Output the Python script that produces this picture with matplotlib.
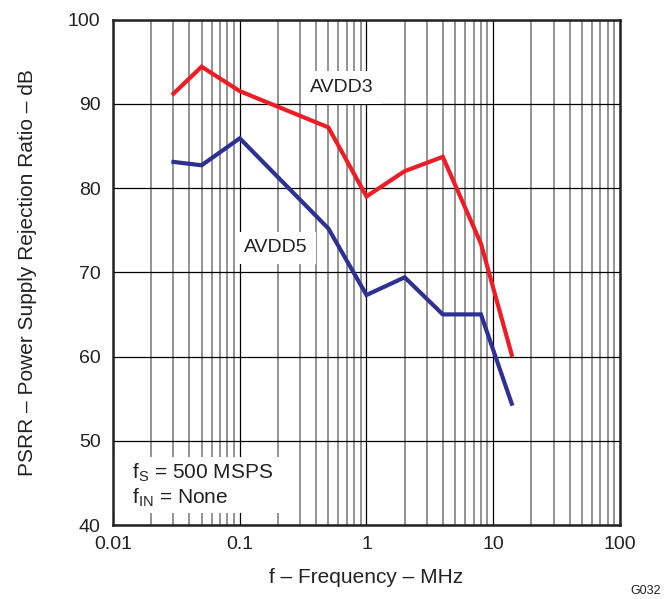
import numpy as np
import matplotlib
matplotlib.use("Agg")
import matplotlib.pyplot as plt
from matplotlib.patches import Rectangle
from matplotlib.ticker import LogLocator, FixedLocator

plt.rcParams["font.family"] = ["Liberation Sans", "DejaVu Sans"]
plt.rcParams["mathtext.fontset"] = "custom"
plt.rcParams["mathtext.rm"] = "Liberation Sans"

# data
freq_mhz = [0.03, 0.05, 0.1, 0.5, 1, 2, 4, 8, 14]
avdd3 = [91.2, 94.4, 91.5, 87.2, 79.0, 82.0, 83.7, 73.4, 60.2]
avdd5 = [83.1, 82.7, 85.9, 75.2, 67.3, 69.4, 65.0, 65.0, 54.4]
x_ticks = [0.01, 0.1, 1, 10, 100]
x_tick_labels = ["0.01", "0.1", "1", "10", "100"]
y_ticks = [40, 50, 60, 70, 80, 90, 100]

RED = "#ee1c25"
BLUE = "#2e3192"
TXT = "#222222"

fig = plt.figure(figsize=(6.64, 5.99), dpi=100)
ax = fig.add_axes([0.1702, 0.1235, 0.7635, 0.8439])

ax.plot(freq_mhz, avdd3, color=RED, lw=3.0, zorder=4, solid_joinstyle="miter")
ax.plot(freq_mhz, avdd5, color=BLUE, lw=3.0, zorder=4, solid_joinstyle="miter")

ax.set_xscale("log")
ax.set_xlim(0.01, 100)
ax.set_ylim(40, 100)
ax.xaxis.set_major_locator(FixedLocator(x_ticks))
ax.set_xticklabels(x_tick_labels)
ax.xaxis.set_minor_locator(LogLocator(base=10, subs=np.arange(2, 10)))
ax.xaxis.set_minor_formatter(plt.NullFormatter())
ax.set_yticks(y_ticks)

ax.grid(which="major", axis="both", color="black", lw=0.9, zorder=1)
ax.grid(which="minor", axis="x", color="#808080", lw=1.2, zorder=1)

ax.tick_params(which="both", length=0)
ax.tick_params(axis="y", pad=9, labelsize=14, colors=TXT)
ax.tick_params(axis="x", pad=8, labelsize=14, colors=TXT)
for s in ax.spines.values():
    s.set_linewidth(1.8)
    s.set_color(TXT)
    s.set_zorder(5)

ax.set_xlabel("f – Frequency – MHz", fontsize=15, color=TXT, labelpad=11)
ax.set_ylabel("PSRR – Power Supply Rejection Ratio – dB", fontsize=15,
              color=TXT, labelpad=22)

box = dict(boxstyle="square,pad=0.4", facecolor="white", edgecolor="none")
ax.text(0.64, 91.9, "AVDD3", fontsize=14, ha="center", va="center",
        color=TXT, bbox=box, zorder=3)
ax.text(0.193, 72.9, "AVDD5", fontsize=14, ha="center", va="center",
        color=TXT, bbox=box, zorder=3)

# white panel behind the conditions note
ax.add_patch(Rectangle((0, 0.024), 0.349, 0.111, transform=ax.transAxes,
                       facecolor="white", edgecolor="none", zorder=2))
ax.text(0.0375, 0.079, "f$_\\mathrm{S}$ = 500 MSPS\nf$_\\mathrm{IN}$ = None",
        transform=ax.transAxes, fontsize=15, ha="left", va="center",
        color=TXT, linespacing=1.1, zorder=3)

fig.text(0.996, 0.004, "G032", fontsize=9, ha="right", va="bottom", color=TXT)

fig.savefig("out.png", dpi=100)
